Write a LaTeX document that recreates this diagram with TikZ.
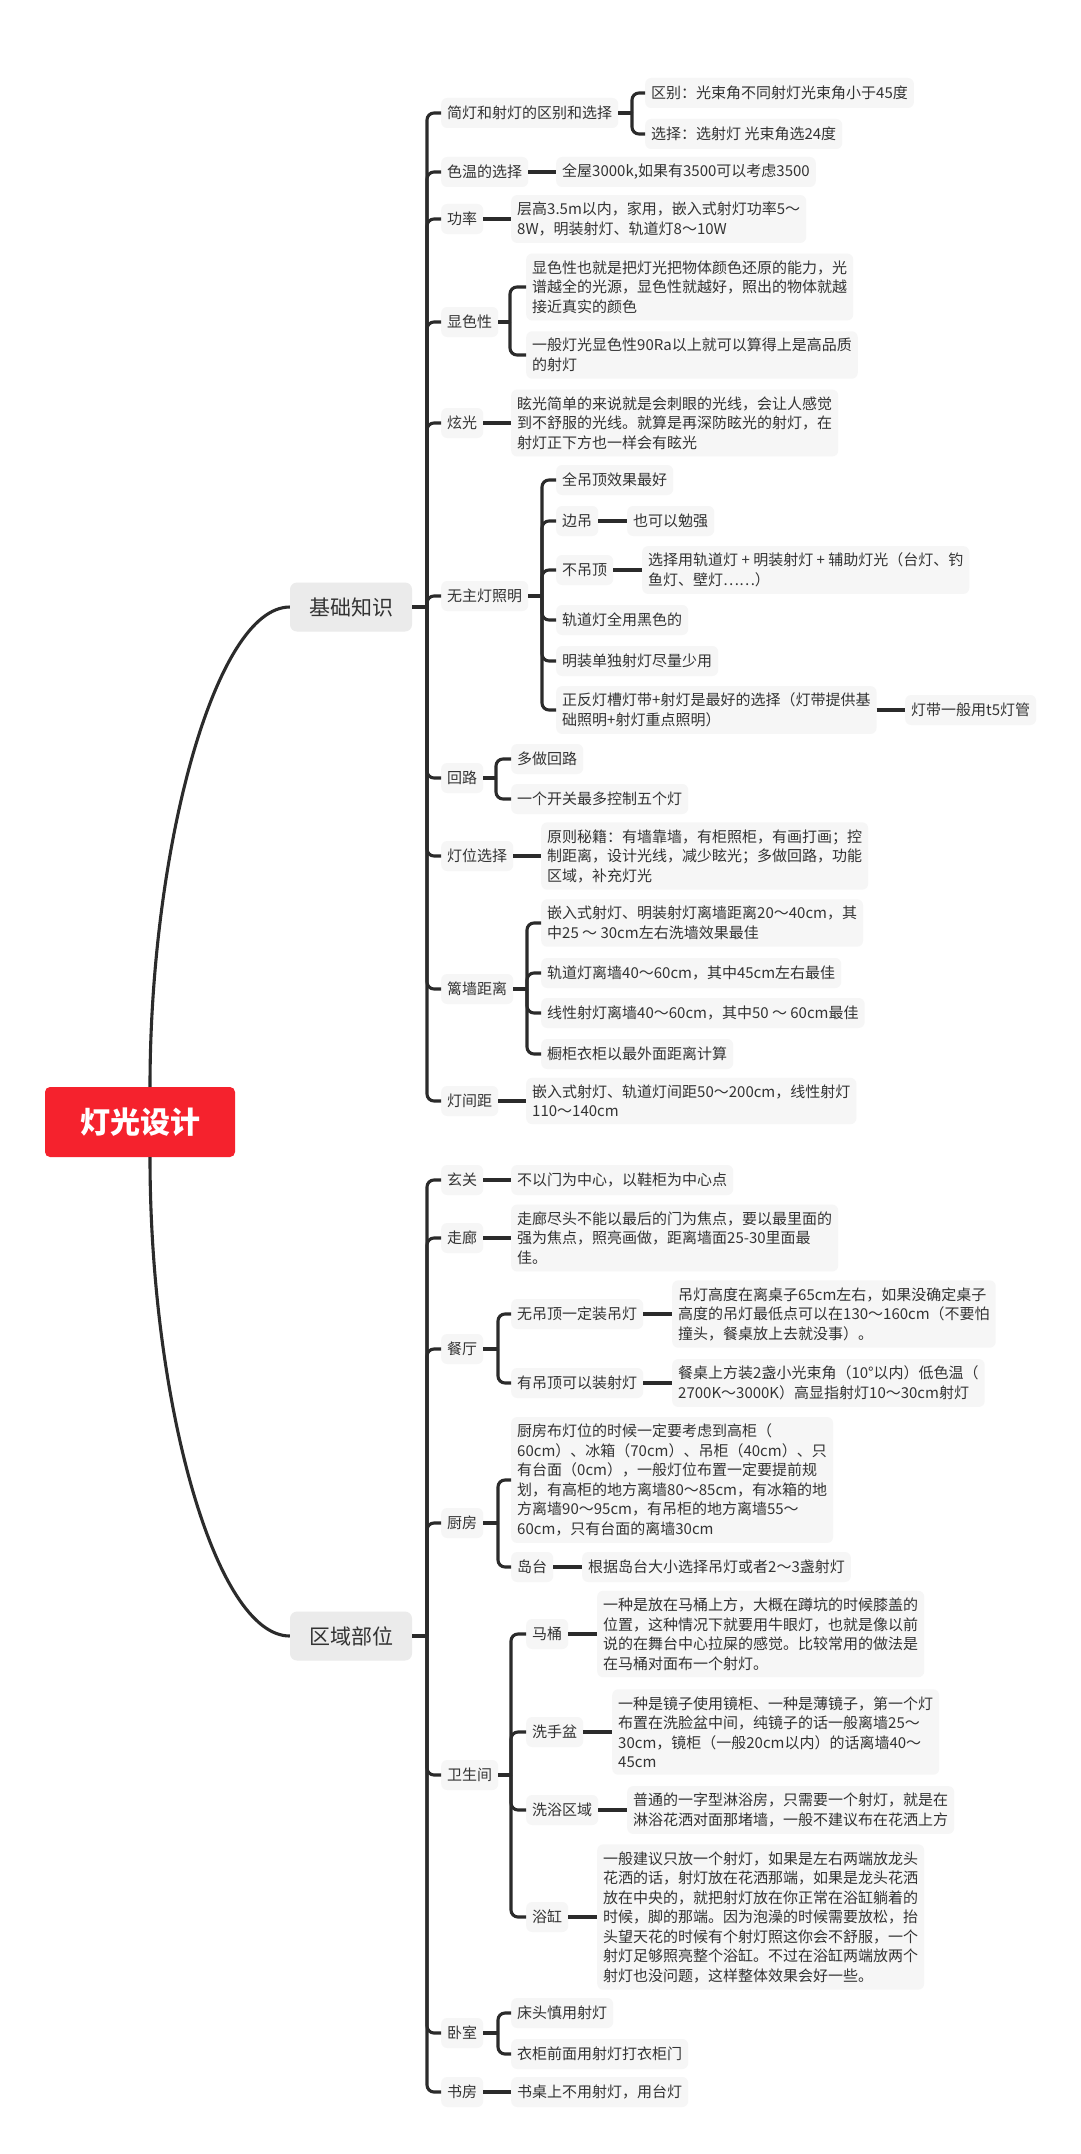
\documentclass[tikz,border=0pt]{standalone}
\usepackage{fontspec}
\setmainfont{Noto Sans CJK SC}
\definecolor{ink}{HTML}{333333}
\definecolor{wire}{HTML}{2B2B2B}
\definecolor{leafgray}{HTML}{F6F6F6}
\definecolor{branchgray}{HTML}{EBEBEB}
\definecolor{rootred}{HTML}{F5222D}
\tikzset{
  leaf/.style={fill=leafgray, rounded corners=6pt, anchor=west, align=left,
    inner xsep=6pt, inner ysep=7pt, minimum height=30pt, text=ink,
    font=\fontsize{15}{19.5}\selectfont},
  branch/.style={fill=branchgray, rounded corners=7pt, minimum width=122pt,
    minimum height=49pt, text=ink, font=\fontsize{21}{25}\selectfont},
  rootbox/.style={fill=rootred, rounded corners=5pt, minimum width=190pt,
    minimum height=70pt, text=white, font=\fontsize{30}{34}\selectfont\bfseries},
  link/.style={draw=wire, line width=3.1pt},
  elbow/.style={link, rounded corners=7pt}
}
\begin{document}
\begin{tikzpicture}[x=1pt,y=-1pt]
\fill[white] (0,0) rectangle (1080,2154);

\node[rootbox] (root) at (140,1122) {灯光设计};
\node[branch] (kb) at (351,607) {基础知识};
\node[branch] (qb) at (351,1636) {区域部位};
\draw[link] ([xshift=10pt]root.north) .. controls (150,850) and (215,607) .. (kb.west);
\draw[link] ([xshift=10pt]root.south) .. controls (150,1400) and (215,1636) .. (qb.west);

% 基础知识
\node[leaf] (a1) at (441,113) {简灯和射灯的区别和选择};
\node[leaf] (a11) at (645,93) {区别：光束角不同射灯光束角小于45度};
\node[leaf] (a12) at (645,134) {选择：选射灯 光束角选24度};
\node[leaf] (a2) at (441,172) {色温的选择};
\node[leaf] (a21) at (556,172) {全屋3000k,如果有3500可以考虑3500};
\node[leaf] (a3) at (441,219) {功率};
\node[leaf] (a31) at (511,219) {层高3.5m以内，家用，嵌入式射灯功率5～\\8W，明装射灯、轨道灯8～10W};
\node[leaf] (a4) at (441,322) {显色性};
\node[leaf] (a41) at (526,287) {显色性也就是把灯光把物体颜色还原的能力，光\\谱越全的光源，显色性就越好，照出的物体就越\\接近真实的颜色};
\node[leaf] (a42) at (526,355) {一般灯光显色性90Ra以上就可以算得上是高品质\\的射灯};
\node[leaf] (a5) at (441,423) {炫光};
\node[leaf] (a51) at (511,423) {眩光简单的来说就是会刺眼的光线，会让人感觉\\到不舒服的光线。就算是再深防眩光的射灯，在\\射灯正下方也一样会有眩光};
\node[leaf] (a6) at (441,596) {无主灯照明};
\node[leaf] (a61) at (556,480) {全吊顶效果最好};
\node[leaf] (a62) at (556,521) {边吊};
\node[leaf] (a621) at (627,521) {也可以勉强};
\node[leaf] (a63) at (556,570) {不吊顶};
\node[leaf] (a631) at (642,570) {选择用轨道灯 + 明装射灯 + 辅助灯光（台灯、钓\\鱼灯、壁灯……）};
\node[leaf] (a64) at (556,620) {轨道灯全用黑色的};
\node[leaf] (a65) at (556,661) {明装单独射灯尽量少用};
\node[leaf] (a66) at (556,710) {正反灯槽灯带+射灯是最好的选择（灯带提供基\\础照明+射灯重点照明）};
\node[leaf] (a661) at (905,710) {灯带一般用t5灯管};
\node[leaf] (a7) at (441,778) {回路};
\node[leaf] (a71) at (511,759) {多做回路};
\node[leaf] (a72) at (511,799) {一个开关最多控制五个灯};
\node[leaf] (a8) at (441,856) {灯位选择};
\node[leaf] (a81) at (541,856) {原则秘籍：有墙靠墙，有柜照柜，有画打画；控\\制距离，设计光线，减少眩光；多做回路，功能\\区域，补充灯光};
\node[leaf] (a9) at (441,989) {篱墙距离};
\node[leaf] (a91) at (541,923) {嵌入式射灯、明装射灯离墙距离20～40cm，其\\中25 ～ 30cm左右洗墙效果最佳};
\node[leaf] (a92) at (541,973) {轨道灯离墙40～60cm，其中45cm左右最佳};
\node[leaf] (a93) at (541,1013) {线性射灯离墙40～60cm，其中50 ～ 60cm最佳};
\node[leaf] (a94) at (541,1054) {橱柜衣柜以最外面距离计算};
\node[leaf] (a10) at (441,1101) {灯间距};
\node[leaf] (a101) at (526,1101) {嵌入式射灯、轨道灯间距50～200cm，线性射灯\\110～140cm};

\coordinate (ka) at (427,607);
\draw[link] (kb) -- (ka);
\foreach \c in {a1,a2,a3,a4,a5,a6,a7,a8,a9,a10}
  \draw[elbow] (ka) |- (\c.west);
\coordinate (ja1) at (632,113);
\draw[link] (a1) -- (ja1);
\foreach \c in {a11,a12}
  \draw[elbow] (ja1) |- (\c.west);
\coordinate (ja4) at (510,322);
\draw[link] (a4) -- (ja4);
\foreach \c in {a41,a42}
  \draw[elbow] (ja4) |- (\c.west);
\coordinate (ja6) at (542,596);
\draw[link] (a6) -- (ja6);
\foreach \c in {a61,a62,a63,a64,a65,a66}
  \draw[elbow] (ja6) |- (\c.west);
\coordinate (ja7) at (496,778);
\draw[link] (a7) -- (ja7);
\foreach \c in {a71,a72}
  \draw[elbow] (ja7) |- (\c.west);
\coordinate (ja9) at (527,989);
\draw[link] (a9) -- (ja9);
\foreach \c in {a91,a92,a93,a94}
  \draw[elbow] (ja9) |- (\c.west);
\foreach \p/\c in {a2/a21,a3/a31,a5/a51,a62/a621,a63/a631,a66/a661,a8/a81,a10/a101}
  \draw[link] (\p) -- (\c);

% 区域部位
\node[leaf] (b1) at (441,1180) {玄关};
\node[leaf] (b11) at (511,1180) {不以门为中心，以鞋柜为中心点};
\node[leaf] (b2) at (441,1238) {走廊};
\node[leaf] (b21) at (511,1238) {走廊尽头不能以最后的门为焦点，要以最里面的\\强为焦点，照亮画做，距离墙面25-30里面最\\佳。};
\node[leaf] (b3) at (441,1349) {餐厅};
\node[leaf] (b31) at (511,1314) {无吊顶一定装吊灯};
\node[leaf] (b311) at (672,1314) {吊灯高度在离桌子65cm左右，如果没确定桌子\\高度的吊灯最低点可以在130～160cm（不要怕\\撞头，餐桌放上去就没事）。};
\node[leaf] (b32) at (511,1383) {有吊顶可以装射灯};
\node[leaf] (b321) at (672,1383) {餐桌上方装2盏小光束角（10°以内）低色温（\\2700K～3000K）高显指射灯10～30cm射灯};
\node[leaf] (b4) at (441,1523) {厨房};
\node[leaf] (b41) at (511,1480) {厨房布灯位的时候一定要考虑到高柜（\\60cm）、冰箱（70cm）、吊柜（40cm）、只\\有台面（0cm），一般灯位布置一定要提前规\\划，有高柜的地方离墙80～85cm，有冰箱的地\\方离墙90～95cm，有吊柜的地方离墙55～\\60cm，只有台面的离墙30cm};
\node[leaf] (b42) at (511,1567) {岛台};
\node[leaf] (b421) at (582,1567) {根据岛台大小选择吊灯或者2～3盏射灯};
\node[leaf] (b5) at (441,1775) {卫生间};
\node[leaf] (b51) at (526,1634) {马桶};
\node[leaf] (b511) at (597,1634) {一种是放在马桶上方，大概在蹲坑的时候膝盖的\\位置，这种情况下就要用牛眼灯，也就是像以前\\说的在舞台中心拉屎的感觉。比较常用的做法是\\在马桶对面布一个射灯。};
\node[leaf] (b52) at (526,1732) {洗手盆};
\node[leaf] (b521) at (612,1732) {一种是镜子使用镜柜、一种是薄镜子，第一个灯\\布置在洗脸盆中间，纯镜子的话一般离墙25～\\30cm，镜柜（一般20cm以内）的话离墙40～\\45cm};
\node[leaf] (b53) at (526,1810) {洗浴区域};
\node[leaf] (b531) at (627,1810) {普通的一字型淋浴房，只需要一个射灯，就是在\\淋浴花洒对面那堵墙，一般不建议布在花洒上方};
\node[leaf] (b54) at (526,1917) {浴缸};
\node[leaf] (b541) at (597,1917) {一般建议只放一个射灯，如果是左右两端放龙头\\花洒的话，射灯放在花洒那端，如果是龙头花洒\\放在中央的，就把射灯放在你正常在浴缸躺着的\\时候，脚的那端。因为泡澡的时候需要放松，抬\\头望天花的时候有个射灯照这你会不舒服，一个\\射灯足够照亮整个浴缸。不过在浴缸两端放两个\\射灯也没问题，这样整体效果会好一些。};
\node[leaf] (b6) at (441,2033) {卧室};
\node[leaf] (b61) at (511,2013) {床头慎用射灯};
\node[leaf] (b62) at (511,2054) {衣柜前面用射灯打衣柜门};
\node[leaf] (b7) at (441,2092) {书房};
\node[leaf] (b71) at (511,2092) {书桌上不用射灯，用台灯};

\coordinate (qa) at (427,1636);
\draw[link] (qb) -- (qa);
\foreach \c in {b1,b2,b3,b4,b5,b6,b7}
  \draw[elbow] (qa) |- (\c.west);
\coordinate (jb3) at (498,1349);
\draw[link] (b3) -- (jb3);
\foreach \c in {b31,b32}
  \draw[elbow] (jb3) |- (\c.west);
\coordinate (jb4) at (498,1523);
\draw[link] (b4) -- (jb4);
\foreach \c in {b41,b42}
  \draw[elbow] (jb4) |- (\c.west);
\coordinate (jb5) at (511,1775);
\draw[link] (b5) -- (jb5);
\foreach \c in {b51,b52,b53,b54}
  \draw[elbow] (jb5) |- (\c.west);
\coordinate (jb6) at (498,2033);
\draw[link] (b6) -- (jb6);
\foreach \c in {b61,b62}
  \draw[elbow] (jb6) |- (\c.west);
\foreach \p/\c in {b1/b11,b2/b21,b31/b311,b32/b321,b42/b421,b51/b511,b52/b521,b53/b531,b54/b541,b7/b71}
  \draw[link] (\p) -- (\c);
\end{tikzpicture}
\end{document}
